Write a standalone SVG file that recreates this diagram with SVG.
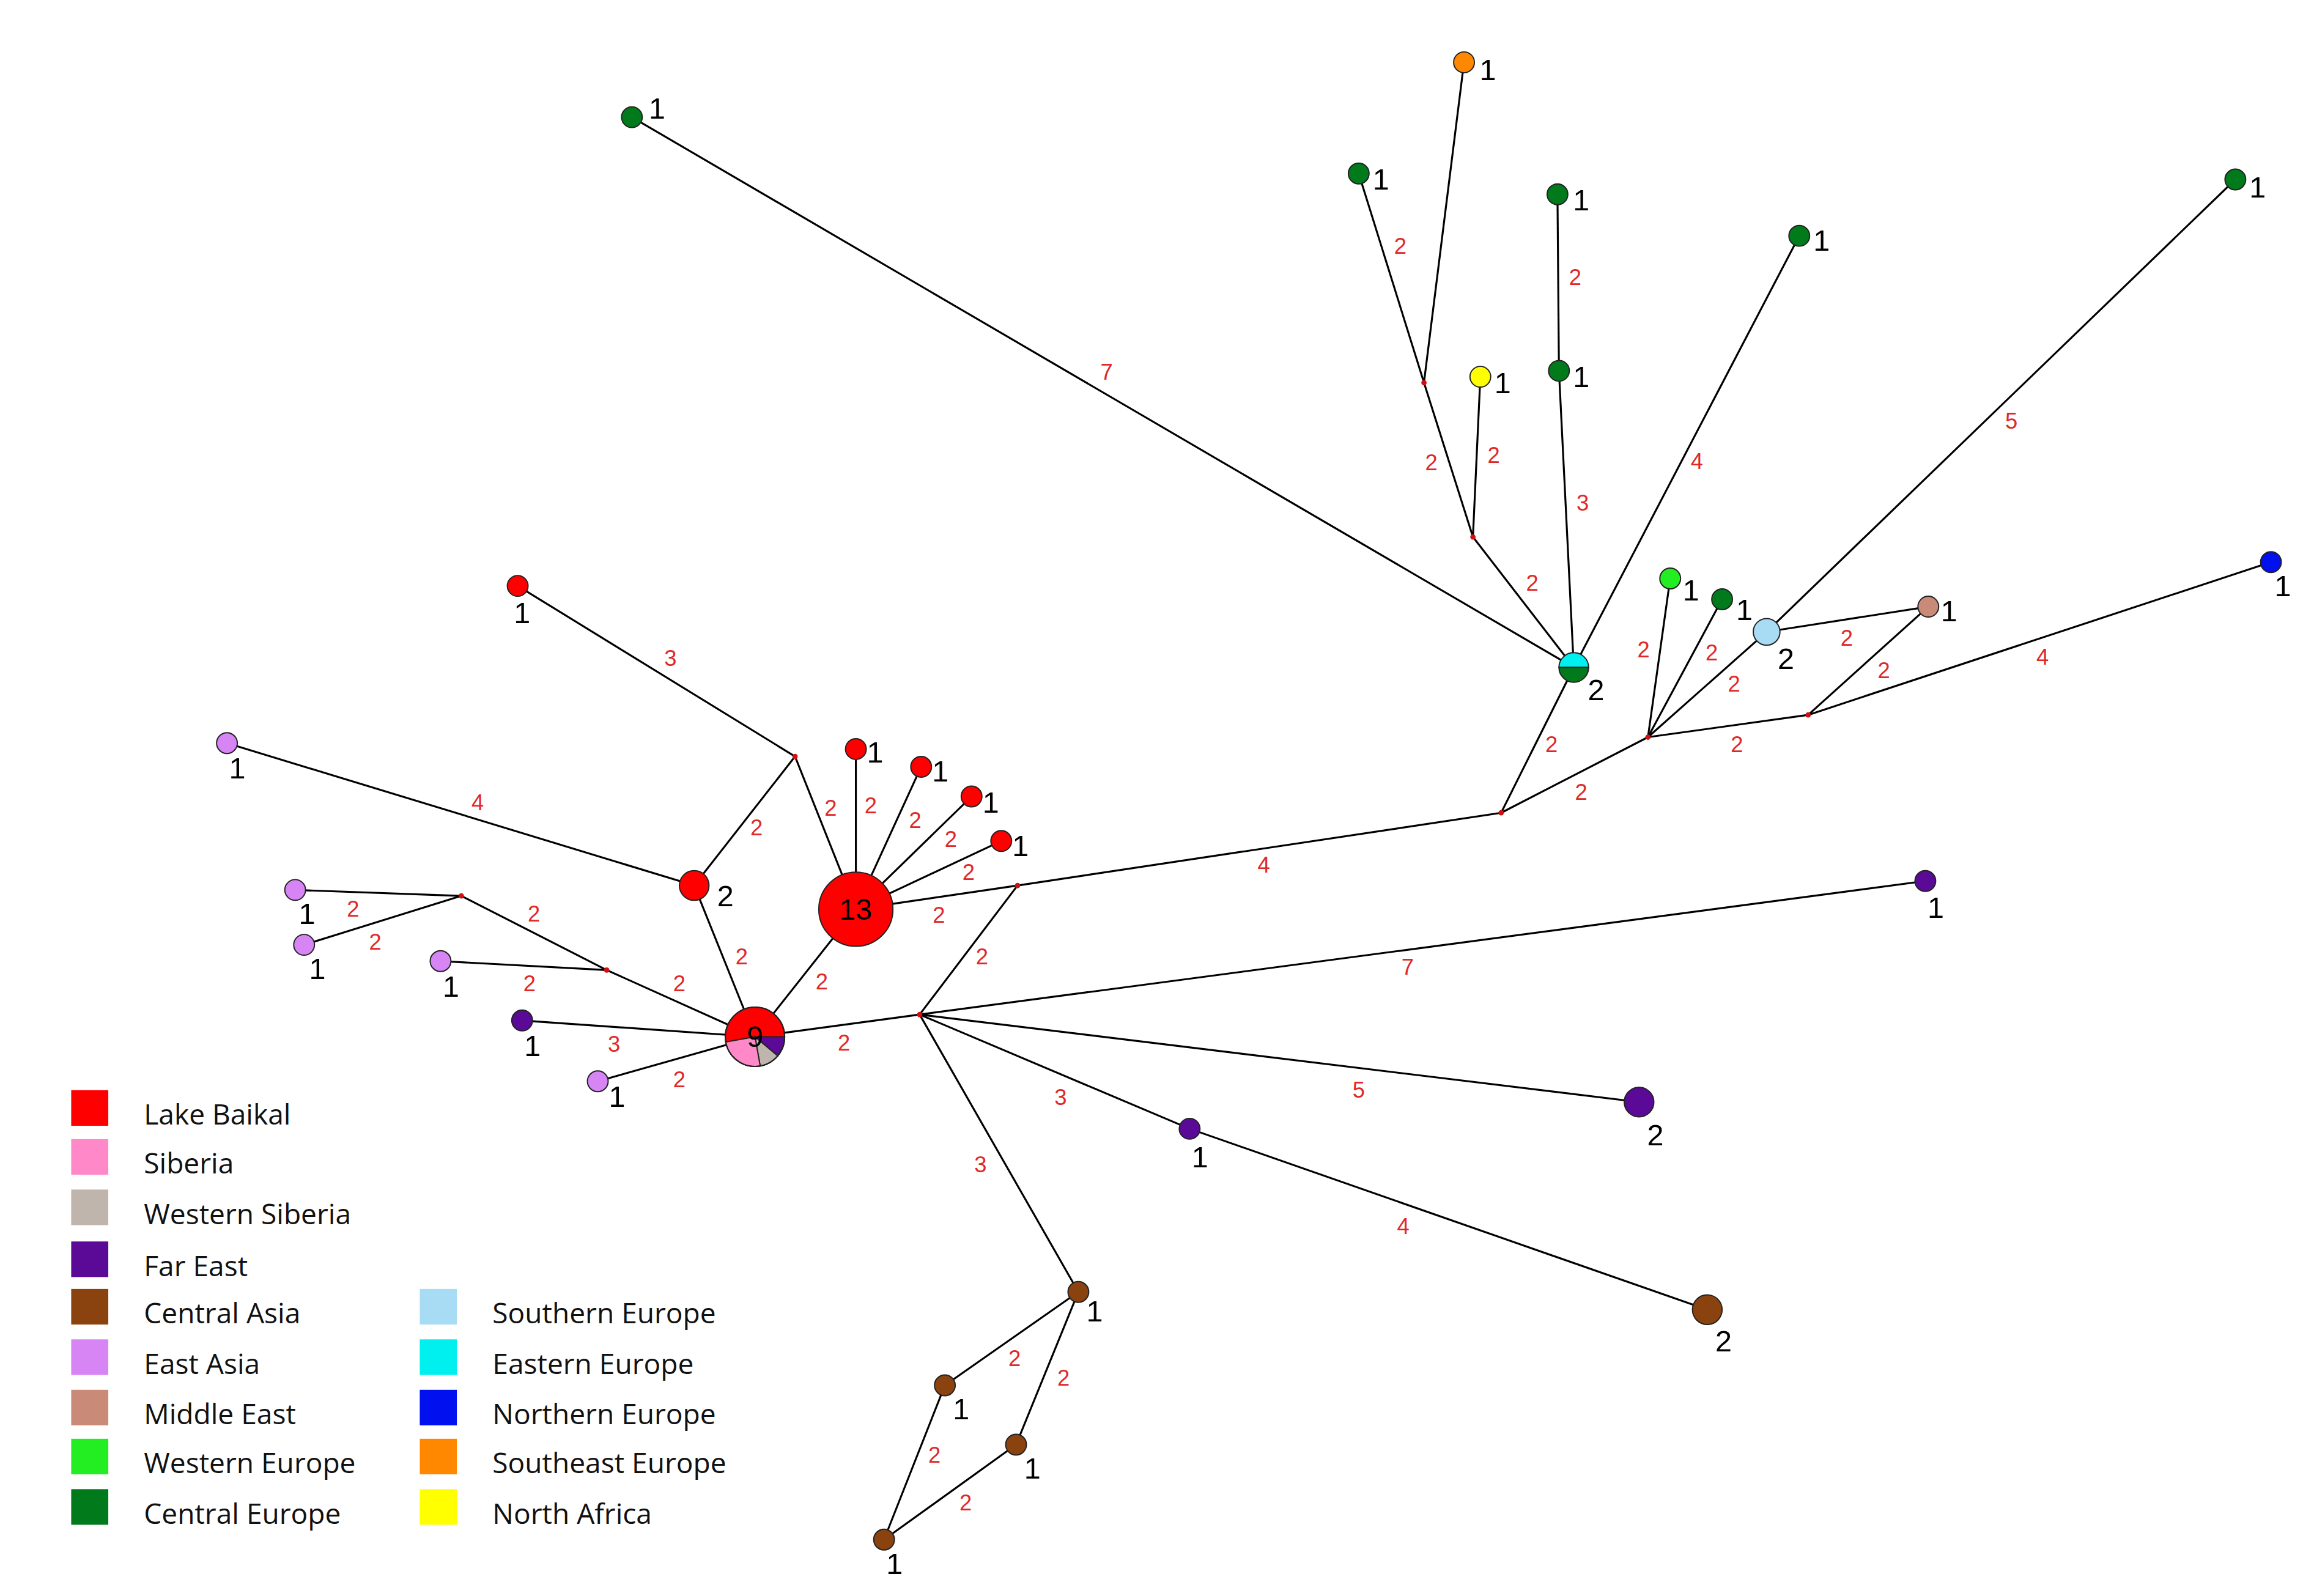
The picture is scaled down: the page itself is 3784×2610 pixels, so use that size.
<svg xmlns="http://www.w3.org/2000/svg" width="3784" height="2610" viewBox="0 0 3784 2610">
<style>
.e line{stroke:#000;stroke-width:1.3}
.n circle,.n path{stroke:#222;stroke-width:0.8}
.el{font-family:"Liberation Sans",Arial,sans-serif;font-size:15px;fill:#e02828;text-anchor:middle;dominant-baseline:central}
.nl{font-family:"Liberation Sans",Arial,sans-serif;font-size:20px;fill:#000;dominant-baseline:central}
.lg{font-family:"Open Sans","Liberation Sans",sans-serif;font-size:19px;fill:#111;dominant-baseline:central}
.j{fill:#d01010;stroke:none}
</style>
<rect width="3784" height="2610" fill="#fff"/>
<g transform="scale(2.4256)">
<g id="connectors" class="e">
<line x1="536" y1="510" x2="349" y2="395"/><line x1="536" y1="510" x2="468" y2="597"/><line x1="536" y1="510" x2="577" y2="613"/>
<line x1="577" y1="613" x2="577" y2="505"/><line x1="577" y1="613" x2="621" y2="517"/><line x1="577" y1="613" x2="655" y2="537"/><line x1="577" y1="613" x2="675" y2="567"/>
<line x1="468" y1="597" x2="509" y2="699"/><line x1="577" y1="613" x2="509" y2="699"/><line x1="577" y1="613" x2="686" y2="597"/>
<line x1="686" y1="597" x2="620" y2="684"/><line x1="509" y1="699" x2="620" y2="684"/><line x1="686" y1="597" x2="1012" y2="548"/>
<line x1="1012" y1="548" x2="1061" y2="450"/><line x1="1012" y1="548" x2="1111" y2="497"/>
<line x1="1061" y1="450" x2="426" y2="79"/><line x1="1061" y1="450" x2="993" y2="362"/><line x1="993" y1="362" x2="960" y2="258"/>
<line x1="960" y1="258" x2="916" y2="117"/><line x1="960" y1="258" x2="987" y2="42"/><line x1="993" y1="362" x2="998" y2="254"/>
<line x1="1061" y1="450" x2="1051" y2="250"/><line x1="1051" y1="250" x2="1050" y2="131"/><line x1="1061" y1="450" x2="1213" y2="159"/>
<line x1="1111" y1="497" x2="1126" y2="390"/><line x1="1111" y1="497" x2="1161" y2="404"/><line x1="1111" y1="497" x2="1191" y2="426"/>
<line x1="1191" y1="426" x2="1507" y2="121"/><line x1="1191" y1="426" x2="1300" y2="409"/><line x1="1111" y1="497" x2="1219" y2="482"/>
<line x1="1219" y1="482" x2="1300" y2="409"/><line x1="1219" y1="482" x2="1531" y2="379"/>
<line x1="620" y1="684" x2="1298" y2="594"/><line x1="620" y1="684" x2="1105" y2="743"/><line x1="620" y1="684" x2="802" y2="761"/>
<line x1="802" y1="761" x2="1151" y2="883"/><line x1="620" y1="684" x2="727" y2="871"/>
<line x1="727" y1="871" x2="637" y2="934"/><line x1="727" y1="871" x2="685" y2="974"/><line x1="637" y1="934" x2="596" y2="1038"/><line x1="685" y1="974" x2="596" y2="1038"/>
<line x1="509" y1="699" x2="409" y2="654"/><line x1="409" y1="654" x2="311" y2="604"/><line x1="311" y1="604" x2="199" y2="600"/><line x1="311" y1="604" x2="205" y2="637"/>
<line x1="409" y1="654" x2="297" y2="648"/><line x1="509" y1="699" x2="352" y2="688"/><line x1="509" y1="699" x2="403" y2="729"/><line x1="468" y1="597" x2="153" y2="501"/>
</g>
<g id="junctions">
<circle class="j" cx="536" cy="510" r="1.8"/><circle class="j" cx="686" cy="597" r="1.8"/><circle class="j" cx="620" cy="684" r="1.8"/><circle class="j" cx="1012" cy="548" r="1.8"/>
<circle class="j" cx="1111" cy="497" r="1.8"/><circle class="j" cx="993" cy="362" r="1.8"/><circle class="j" cx="960" cy="258" r="1.8"/><circle class="j" cx="1219" cy="482" r="1.8"/>
<circle class="j" cx="409" cy="654" r="1.8"/><circle class="j" cx="311" cy="604" r="1.8"/>
</g>
<g id="edge-labels">
<text class="el" x="452" y="444">3</text><text class="el" x="510" y="558">2</text><text class="el" x="560" y="545">2</text>
<text class="el" x="587" y="543">2</text><text class="el" x="617" y="553">2</text><text class="el" x="641" y="566">2</text><text class="el" x="653" y="588">2</text>
<text class="el" x="500" y="645">2</text><text class="el" x="554" y="662">2</text><text class="el" x="633" y="617">2</text><text class="el" x="662" y="645">2</text>
<text class="el" x="569" y="703">2</text><text class="el" x="852" y="583">4</text><text class="el" x="1046" y="502">2</text><text class="el" x="1066" y="534">2</text>
<text class="el" x="746" y="251">7</text><text class="el" x="1033" y="393">2</text><text class="el" x="965" y="312">2</text><text class="el" x="944" y="166">2</text>
<text class="el" x="1007" y="307">2</text><text class="el" x="1067" y="339">3</text><text class="el" x="1062" y="187">2</text><text class="el" x="1144" y="311">4</text>
<text class="el" x="1108" y="438">2</text><text class="el" x="1154" y="440">2</text><text class="el" x="1169" y="461">2</text><text class="el" x="1356" y="284">5</text>
<text class="el" x="1245" y="430">2</text><text class="el" x="1171" y="502">2</text><text class="el" x="1270" y="452">2</text><text class="el" x="1377" y="443">4</text>
<text class="el" x="949" y="652">7</text><text class="el" x="916" y="735">5</text><text class="el" x="715" y="740">3</text><text class="el" x="946" y="827">4</text>
<text class="el" x="661" y="785">3</text><text class="el" x="684" y="916">2</text><text class="el" x="717" y="929">2</text><text class="el" x="630" y="981">2</text><text class="el" x="651" y="1013">2</text>
<text class="el" x="458" y="663">2</text><text class="el" x="360" y="616">2</text><text class="el" x="238" y="613">2</text><text class="el" x="253" y="635">2</text>
<text class="el" x="357" y="663">2</text><text class="el" x="414" y="704">3</text><text class="el" x="458" y="728">2</text><text class="el" x="322" y="541">4</text>
</g>
<g id="n13" class="n"><circle cx="577" cy="613" r="25" fill="#ff0000"/><text class="nl" x="577" y="613" text-anchor="middle">13</text></g>
<g id="n9" class="n"><circle cx="509" cy="699" r="20" fill="#ff0000"/>
<path d="M509,699 L529,699 A20,20 0 0 1 524.3,711.9 Z" fill="#5a0a96" stroke="none"/>
<path d="M509,699 L524.3,711.9 A20,20 0 0 1 512.5,718.7 Z" fill="#bfb5ad" stroke="none"/>
<path d="M509,699 L512.5,718.7 A20,20 0 0 1 489.3,702.5 Z" fill="#ff88c8" stroke="none"/>
<circle cx="509" cy="699" r="20" fill="none"/><text class="nl" x="509" y="699" text-anchor="middle">9</text></g>
<g id="red2" class="n"><circle cx="468" cy="597" r="10" fill="#ff0000"/><text class="nl" x="489" y="604" text-anchor="middle">2</text></g>
<g id="red1a" class="n"><circle cx="349" cy="395" r="7" fill="#ff0000"/><text class="nl" x="352" y="413" text-anchor="middle">1</text></g>
<g id="red1b" class="n"><circle cx="577" cy="505" r="7" fill="#ff0000"/><text class="nl" x="590" y="507" text-anchor="middle">1</text></g>
<g id="red1c" class="n"><circle cx="621" cy="517" r="7" fill="#ff0000"/><text class="nl" x="634" y="520" text-anchor="middle">1</text></g>
<g id="red1d" class="n"><circle cx="655" cy="537" r="7" fill="#ff0000"/><text class="nl" x="668" y="541" text-anchor="middle">1</text></g>
<g id="red1e" class="n"><circle cx="675" cy="567" r="7" fill="#ff0000"/><text class="nl" x="688" y="570" text-anchor="middle">1</text></g>
<g id="cyan2" class="n"><path d="M1051,450 A10,10 0 0 1 1071,450 Z" fill="#00f0f0"/><path d="M1051,450 A10,10 0 0 0 1071,450 Z" fill="#007a1a"/><text class="nl" x="1076" y="465" text-anchor="middle">2</text></g>
<g id="g1a" class="n"><circle cx="426" cy="79" r="7" fill="#007a1a"/><text class="nl" x="443" y="73" text-anchor="middle">1</text></g>
<g id="g1b" class="n"><circle cx="916" cy="117" r="7" fill="#007a1a"/><text class="nl" x="931" y="121" text-anchor="middle">1</text></g>
<g id="o1" class="n"><circle cx="987" cy="42" r="7" fill="#ff8800"/><text class="nl" x="1003" y="47" text-anchor="middle">1</text></g>
<g id="y1" class="n"><circle cx="998" cy="254" r="7" fill="#ffff00"/><text class="nl" x="1013" y="258" text-anchor="middle">1</text></g>
<g id="g1c" class="n"><circle cx="1051" cy="250" r="7" fill="#007a1a"/><text class="nl" x="1066" y="254" text-anchor="middle">1</text></g>
<g id="g1d" class="n"><circle cx="1050" cy="131" r="7" fill="#007a1a"/><text class="nl" x="1066" y="135" text-anchor="middle">1</text></g>
<g id="g1e" class="n"><circle cx="1213" cy="159" r="7" fill="#007a1a"/><text class="nl" x="1228" y="162" text-anchor="middle">1</text></g>
<g id="lg1" class="n"><circle cx="1126" cy="390" r="7" fill="#22ee22"/><text class="nl" x="1140" y="398" text-anchor="middle">1</text></g>
<g id="g1f" class="n"><circle cx="1161" cy="404" r="7" fill="#007a1a"/><text class="nl" x="1176" y="411" text-anchor="middle">1</text></g>
<g id="lb2" class="n"><circle cx="1191" cy="426" r="9" fill="#a8dcf5"/><text class="nl" x="1204" y="444" text-anchor="middle">2</text></g>
<g id="g1g" class="n"><circle cx="1507" cy="121" r="7" fill="#007a1a"/><text class="nl" x="1522" y="126" text-anchor="middle">1</text></g>
<g id="tan1" class="n"><circle cx="1300" cy="409" r="7" fill="#c98a78"/><text class="nl" x="1314" y="412" text-anchor="middle">1</text></g>
<g id="b1" class="n"><circle cx="1531" cy="379" r="7" fill="#0010ee"/><text class="nl" x="1539" y="395" text-anchor="middle">1</text></g>
<g id="p1a" class="n"><circle cx="1298" cy="594" r="7" fill="#5a0a96"/><text class="nl" x="1305" y="612" text-anchor="middle">1</text></g>
<g id="p2" class="n"><circle cx="1105" cy="743" r="10" fill="#5a0a96"/><text class="nl" x="1116" y="765" text-anchor="middle">2</text></g>
<g id="p1b" class="n"><circle cx="802" cy="761" r="7" fill="#5a0a96"/><text class="nl" x="809" y="780" text-anchor="middle">1</text></g>
<g id="br2" class="n"><circle cx="1151" cy="883" r="10" fill="#8a420f"/><text class="nl" x="1162" y="904" text-anchor="middle">2</text></g>
<g id="br1a" class="n"><circle cx="727" cy="871" r="7" fill="#8a420f"/><text class="nl" x="738" y="884" text-anchor="middle">1</text></g>
<g id="br1b" class="n"><circle cx="637" cy="934" r="7" fill="#8a420f"/><text class="nl" x="648" y="950" text-anchor="middle">1</text></g>
<g id="br1c" class="n"><circle cx="685" cy="974" r="7" fill="#8a420f"/><text class="nl" x="696" y="990" text-anchor="middle">1</text></g>
<g id="br1d" class="n"><circle cx="596" cy="1038" r="7" fill="#8a420f"/><text class="nl" x="603" y="1054" text-anchor="middle">1</text></g>
<g id="ea1a" class="n"><circle cx="199" cy="600" r="7" fill="#d784f5"/><text class="nl" x="207" y="616" text-anchor="middle">1</text></g>
<g id="ea1b" class="n"><circle cx="205" cy="637" r="7" fill="#d784f5"/><text class="nl" x="214" y="653" text-anchor="middle">1</text></g>
<g id="ea1c" class="n"><circle cx="297" cy="648" r="7" fill="#d784f5"/><text class="nl" x="304" y="665" text-anchor="middle">1</text></g>
<g id="p1c" class="n"><circle cx="352" cy="688" r="7" fill="#5a0a96"/><text class="nl" x="359" y="705" text-anchor="middle">1</text></g>
<g id="ea1d" class="n"><circle cx="403" cy="729" r="7" fill="#d784f5"/><text class="nl" x="416" y="739" text-anchor="middle">1</text></g>
<g id="ea1e" class="n"><circle cx="153" cy="501" r="7" fill="#d784f5"/><text class="nl" x="160" y="518" text-anchor="middle">1</text></g>
<g id="legend">
<rect x="48" y="735" width="25" height="24" fill="#ff0000"/><text class="lg" x="97" y="751">Lake Baikal</text>
<rect x="48" y="768" width="25" height="24" fill="#ff88c8"/><text class="lg" x="97" y="784">Siberia</text>
<rect x="48" y="802" width="25" height="24" fill="#bfb5ad"/><text class="lg" x="97" y="818">Western Siberia</text>
<rect x="48" y="837" width="25" height="24" fill="#5a0a96"/><text class="lg" x="97" y="853">Far East</text>
<rect x="48" y="869" width="25" height="24" fill="#8a420f"/><text class="lg" x="97" y="885">Central Asia</text>
<rect x="48" y="903" width="25" height="24" fill="#d784f5"/><text class="lg" x="97" y="919">East Asia</text>
<rect x="48" y="937" width="25" height="24" fill="#c98a78"/><text class="lg" x="97" y="953">Middle East</text>
<rect x="48" y="970" width="25" height="24" fill="#22ee22"/><text class="lg" x="97" y="986">Western Europe</text>
<rect x="48" y="1004" width="25" height="24" fill="#007a1a"/><text class="lg" x="97" y="1020">Central Europe</text>
<rect x="283" y="869" width="25" height="24" fill="#a8dcf5"/><text class="lg" x="332" y="885">Southern Europe</text>
<rect x="283" y="903" width="25" height="24" fill="#00f0f0"/><text class="lg" x="332" y="919">Eastern Europe</text>
<rect x="283" y="937" width="25" height="24" fill="#0010ee"/><text class="lg" x="332" y="953">Northern Europe</text>
<rect x="283" y="970" width="25" height="24" fill="#ff8800"/><text class="lg" x="332" y="986">Southeast Europe</text>
<rect x="283" y="1004" width="25" height="24" fill="#ffff00"/><text class="lg" x="332" y="1020">North Africa</text>
</g>
</g>
</svg>
